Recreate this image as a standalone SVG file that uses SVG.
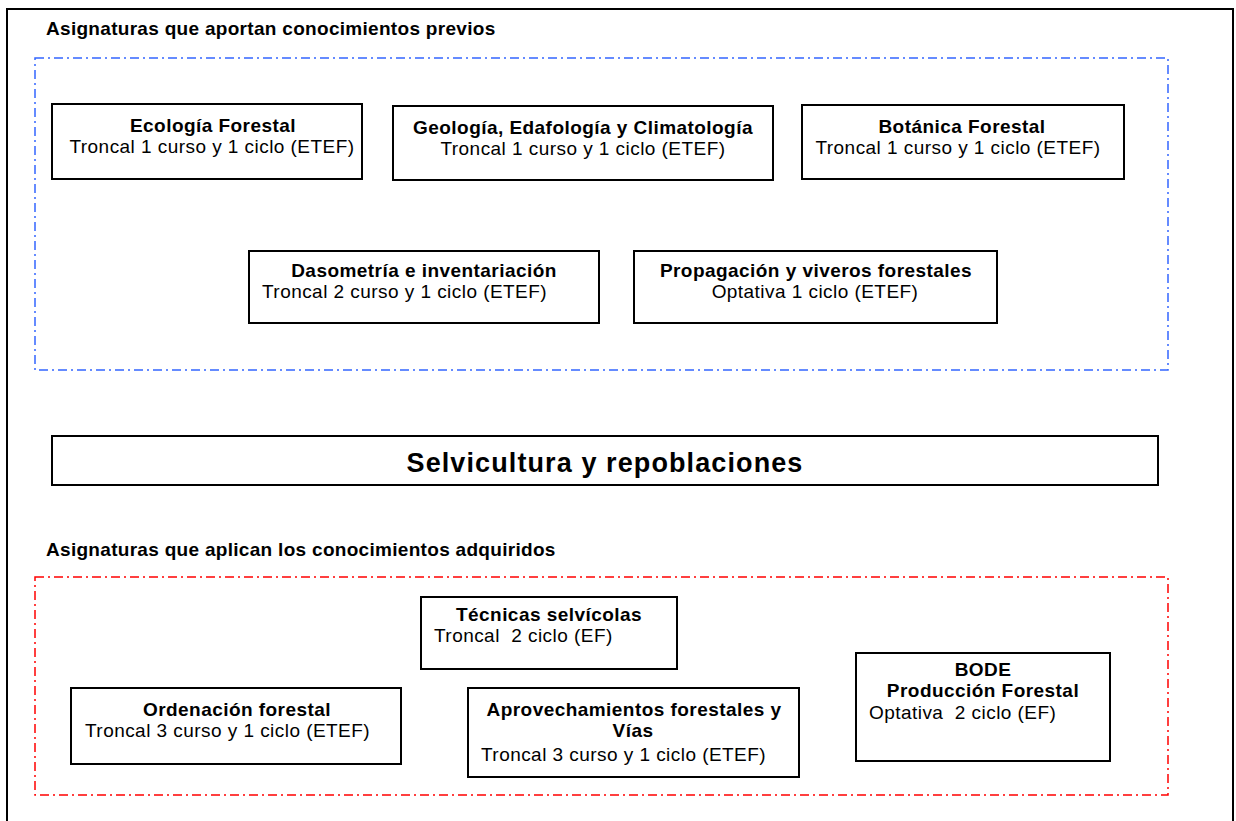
<svg xmlns="http://www.w3.org/2000/svg" width="1236" height="821" viewBox="0 0 1236 821">
<style>
text{font-family:"Liberation Sans",Arial,sans-serif;fill:#000;font-size:19px;letter-spacing:0.45px}
.b{font-weight:bold}
.h{font-weight:bold;letter-spacing:0.3px}
.box{fill:#fff;stroke:#000;stroke-width:2}
.c{text-anchor:middle}
.grp{fill:none;stroke-width:1.5;stroke-dasharray:9,4,2,4}
</style>
<rect x="0" y="0" width="1236" height="821" fill="#fff"/>
<rect x="7" y="9" width="1226" height="820" fill="none" stroke="#000" stroke-width="2"/>
<text class="h" x="46" y="35">Asignaturas que aportan conocimientos previos</text>
<rect class="grp" x="35" y="58" width="1133" height="312" stroke="#3366ff"/>
<text class="h" x="46" y="556">Asignaturas que aplican los conocimientos adquiridos</text>
<rect class="grp" x="35" y="577" width="1133" height="218" stroke="#ff0000"/>
<g id="connectors"></g>
<g id="ecologia"><rect class="box" x="52" y="104" width="310" height="75"/>
<text class="b c" x="213" y="132">Ecología Forestal</text>
<text class="c" x="212" y="153">Troncal 1 curso y 1 ciclo (ETEF)</text></g>
<g id="geologia"><rect class="box" x="393" y="106" width="380" height="74"/>
<text class="b c" x="583" y="134">Geología, Edafología y Climatología</text>
<text class="c" x="583" y="155">Troncal 1 curso y 1 ciclo (ETEF)</text></g>
<g id="botanica"><rect class="box" x="802" y="105" width="322" height="74"/>
<text class="b c" x="962" y="133">Botánica Forestal</text>
<text class="c" x="958" y="154">Troncal 1 curso y 1 ciclo (ETEF)</text></g>
<g id="dasometria"><rect class="box" x="249" y="251" width="350" height="72"/>
<text class="b c" x="424" y="277">Dasometría e inventariación</text>
<text x="262" y="298">Troncal 2 curso y 1 ciclo (ETEF)</text></g>
<g id="propagacion"><rect class="box" x="634" y="251" width="363" height="72"/>
<text class="b c" x="816" y="277">Propagación y viveros forestales</text>
<text class="c" x="815" y="298">Optativa 1 ciclo (ETEF)</text></g>
<g id="selvicultura"><rect class="box" x="52" y="436" width="1106" height="49"/>
<text class="c" x="605" y="471.5" style="font-weight:bold;font-size:27px;letter-spacing:1.1px">Selvicultura y repoblaciones</text></g>
<g id="tecnicas"><rect class="box" x="421" y="597" width="256" height="72"/>
<text class="b c" x="549" y="621">Técnicas selvícolas</text>
<text x="434" y="642" xml:space="preserve">Troncal  2 ciclo (EF)</text></g>
<g id="ordenacion"><rect class="box" x="71" y="688" width="330" height="76"/>
<text class="b c" x="237" y="716">Ordenación forestal</text>
<text x="85" y="737">Troncal 3 curso y 1 ciclo (ETEF)</text></g>
<g id="aprovechamientos"><rect class="box" x="468" y="688" width="331" height="89"/>
<text class="b c" x="634" y="716">Aprovechamientos forestales y</text>
<text class="b c" x="633" y="737">Vías</text>
<text x="481" y="761">Troncal 3 curso y 1 ciclo (ETEF)</text></g>
<g id="bode"><rect class="box" x="856" y="653" width="254" height="108"/>
<text class="b c" x="983" y="676">BODE</text>
<text class="b c" x="983" y="697">Producción Forestal</text>
<text x="869" y="719" xml:space="preserve">Optativa  2 ciclo (EF)</text></g>
</svg>
